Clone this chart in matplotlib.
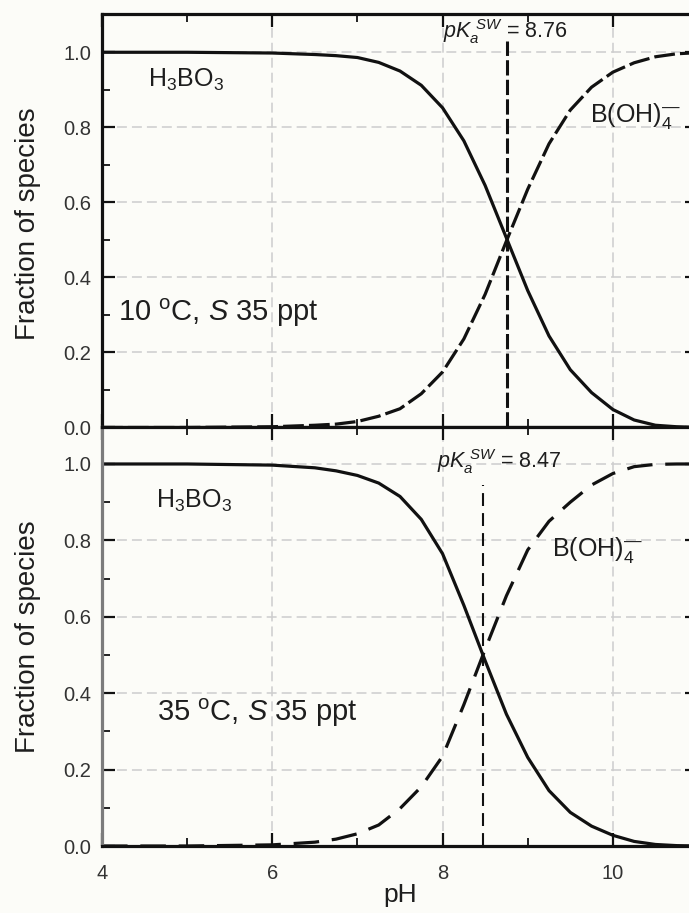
import matplotlib
matplotlib.use("Agg")
import matplotlib.pyplot as plt
from matplotlib.ticker import MultipleLocator

plt.rcParams['font.family'] = ['Liberation Sans', 'DejaVu Sans']
plt.rcParams['mathtext.fontset'] = 'custom'
plt.rcParams['mathtext.rm'] = 'Liberation Sans'
plt.rcParams['mathtext.it'] = 'Liberation Sans:italic'
plt.rcParams['mathtext.bf'] = 'Liberation Sans:bold'

# ---------------- data ----------------
ph = [4.0, 5.0, 6.0, 6.5, 6.75, 7.0, 7.25, 7.5, 7.75, 8.0, 8.25, 8.5, 8.75,
      9.0, 9.25, 9.5, 9.75, 10.0, 10.25, 10.5, 10.75, 11.0]

# 10 °C, S 35 ppt
h3bo3_10 = [1.000, 1.000, 0.998, 0.994, 0.991, 0.986, 0.973, 0.950, 0.912,
            0.852, 0.764, 0.645, 0.505, 0.365, 0.244, 0.154, 0.093, 0.048,
            0.020, 0.006, 0.002, 0.000]
boh4_10 = [0.000, 0.000, 0.002, 0.006, 0.009, 0.016, 0.030, 0.050, 0.090,
           0.148, 0.236, 0.355, 0.497, 0.635, 0.756, 0.846, 0.907, 0.947,
           0.972, 0.988, 0.996, 0.999]
pka_10 = 8.76

# 35 °C, S 35 ppt
h3bo3_35 = [1.000, 1.000, 0.997, 0.990, 0.982, 0.970, 0.950, 0.915, 0.855,
            0.765, 0.630, 0.485, 0.345, 0.232, 0.145, 0.088, 0.052, 0.028,
            0.012, 0.004, 0.001, 0.000]
boh4_35 = [0.000, 0.000, 0.003, 0.010, 0.018, 0.032, 0.055, 0.098, 0.155,
           0.235, 0.370, 0.515, 0.655, 0.775, 0.850, 0.900, 0.945, 0.975,
           0.993, 0.999, 1.000, 1.000]
pka_35 = 8.47

xticks = [4, 6, 8, 10]
yticks = [0.0, 0.2, 0.4, 0.6, 0.8, 1.0]

# ---------------- figure ----------------
W, H = 689, 913
fig = plt.figure(figsize=(W / 100, H / 100), dpi=100, facecolor='#fcfcf8')

left = 102 / W
width = (698 - 102) / W
ax1 = fig.add_axes([left, 1 - 427.5 / H, width, (427.5 - 14) / H])
ax2 = fig.add_axes([left, 1 - 846 / H, width, (846 - 427.5) / H])

grid_kw = dict(color='#cdcdcd', lw=1.1, dashes=(6.5, 3.3))
tick_col = '#333333'

for ax, top in ((ax1, 1.102), (ax2, 1.0955)):
    ax.set_facecolor('#fcfcf8')
    ax.set_xlim(4, 11)
    ax.set_ylim(0, top)
    ax.set_xticks(xticks)
    ax.set_yticks(yticks)
    ax.set_yticklabels([f"{v:.1f}" for v in yticks])
    ax.xaxis.set_minor_locator(MultipleLocator(1))
    ax.yaxis.set_minor_locator(MultipleLocator(0.1))
    ax.tick_params(which='both', direction='in', top=True, right=True,
                   colors='#111111', labelcolor=tick_col, labelsize=14.5)
    ax.tick_params(which='major', length=9.5, width=1.6)
    ax.tick_params(which='minor', length=6, width=1.3)
    ax.tick_params(axis='y', pad=8)
    ax.tick_params(axis='x', pad=13)
    for s in ax.spines.values():
        s.set_linewidth(2.3)
        s.set_color('#111111')
    ax.grid(True, which='major', **grid_kw)
    ax.set_axisbelow(True)

ax1.tick_params(axis='x', labelbottom=False)
ax2.spines['left'].set_color('#7c7c7c')

curve_kw = dict(color='#111111', lw=2.3, clip_on=False, solid_capstyle='butt')

# top panel
ax1.plot(ph, h3bo3_10, **curve_kw)
ax1.plot(ph, boh4_10, dashes=(6.5, 1.6), **curve_kw)
ax1.plot([pka_10, pka_10], [0, 1.03], color='#111111', lw=2.2,
         dashes=(5, 1.4))

# bottom panel
ax2.plot(ph, h3bo3_35, **curve_kw)
ax2.plot(ph, boh4_35, dashes=(8, 4), **curve_kw)
ax2.plot([pka_35, pka_35], [0, 0.945], color='#111111', lw=1.5,
         dashes=(6.2, 3.4))

txt = '#1e1e1e'
boh4_label = 'B(OH)$_4^{\u2014}$'
ax1.text(4.54, 0.927, r'H$_3$BO$_3$', fontsize=18, color=txt,
         ha='left', va='center')
ax1.text(4.19, 0.305, r'10 $^{\rm o}$C, $S$ 35 ppt', fontsize=21,
         color=txt, ha='left', va='center')
ax1.text(8.0, 1.055, r'$pK_a^{\ SW}$ = 8.76', fontsize=15.5, color=txt,
         ha='left', va='center')
ax1.text(9.73, 0.83, boh4_label, fontsize=18, color=txt,
         ha='left', va='center')

ax2.text(4.63, 0.904, r'H$_3$BO$_3$', fontsize=18, color=txt,
         ha='left', va='center')
ax2.text(4.65, 0.348, r'35 $^{\rm o}$C, $S$ 35 ppt', fontsize=21,
         color=txt, ha='left', va='center')
ax2.text(7.93, 1.006, r'$pK_a^{\ SW}$ = 8.47', fontsize=15.5, color=txt,
         ha='left', va='center')
ax2.text(9.29, 0.775, boh4_label, fontsize=18, color=txt,
         ha='left', va='center')

fig.text(28 / W, 1 - 224 / H, 'Fraction of species', rotation=90,
         fontsize=20, color=txt, ha='center', va='center')
fig.text(28 / W, 1 - 637 / H, 'Fraction of species', rotation=90,
         fontsize=20, color=txt, ha='center', va='center')
fig.text(400 / W, 1 - 895 / H, 'pH', fontsize=19, color=txt,
         ha='center', va='center')

fig.savefig('out.png', dpi=100, facecolor=fig.get_facecolor())
